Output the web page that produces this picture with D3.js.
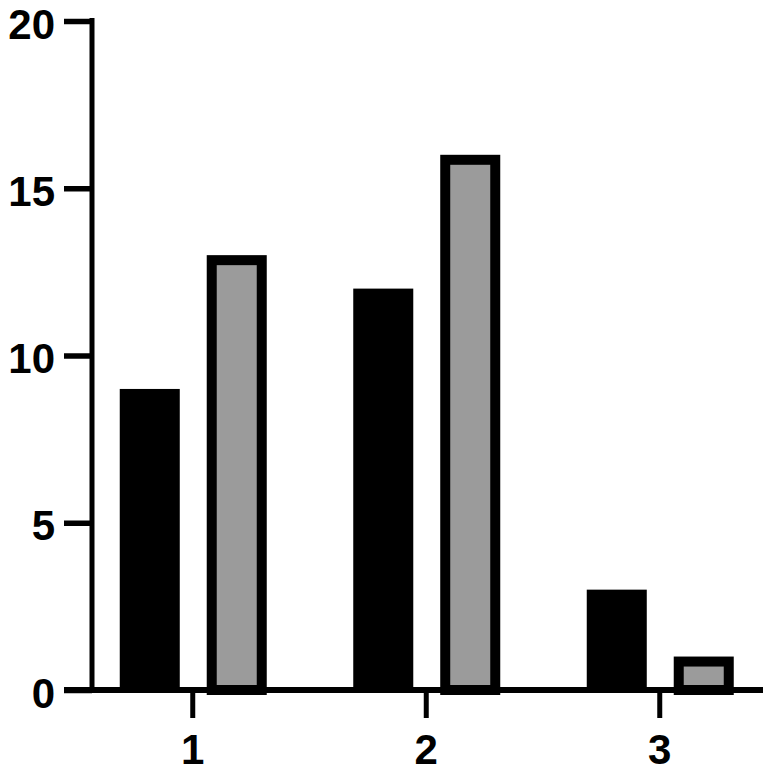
<!DOCTYPE html>
<html>
<head>
<meta charset="utf-8">
<script src="https://cdn.jsdelivr.net/npm/d3@7"></script>
<style>
  html, body { margin: 0; padding: 0; background: #fff; }
  svg { display: block; }
  text { font-family: "Liberation Sans", Arial, sans-serif; font-weight: bold; }
</style>
</head>
<body>
<svg id="chart" width="765" height="773"></svg>
<script>
const categories = ["1", "2", "3"];
const seriesNames = ["A", "B"];
const seriesA = [9, 12, 3];
const seriesB = [13, 16, 1];
const yTicks = [0, 5, 10, 15, 20];

const svg = d3.select("#chart");

const y = d3.scaleLinear().domain([0, 20]).range([690, 21]);
const x = d3.scaleBand().domain(categories).range([76, 776.5]).padding(0);
const xs = d3.scaleBand().domain(seriesNames).range([-73, 74]).paddingInner(0.31).paddingOuter(0);

const data = categories.map((c, i) => ({ cat: c, A: seriesA[i], B: seriesB[i] }));

const groups = svg.append("g").selectAll("g")
  .data(data).join("g")
  .attr("transform", d => `translate(${x(d.cat) + x.bandwidth() / 2},0)`);

// black bars
groups.append("rect")
  .attr("x", xs("A"))
  .attr("width", xs.bandwidth())
  .attr("y", d => y(d.A))
  .attr("height", d => y(0) - y(d.A))
  .attr("fill", "#000");

// grey bars with thick black border
const sw = 10;
groups.append("rect")
  .attr("x", xs("B") + sw / 2)
  .attr("width", xs.bandwidth() - sw)
  .attr("y", d => y(d.B) + sw / 2)
  .attr("height", d => Math.max(0, y(0) - y(d.B) - sw / 2))
  .attr("fill", "#9b9b9b")
  .attr("stroke", "#000")
  .attr("stroke-width", sw);

const fontSize = 42;

// Y axis
const yAxis = d3.axisLeft(y).tickValues(yTicks).tickSize(28).tickSizeOuter(0).tickPadding(9);
const gy = svg.append("g").attr("transform", "translate(92,0)").call(yAxis);
gy.select(".domain").remove();
gy.selectAll(".tick line").attr("stroke", "#000").attr("stroke-width", 5.5);
gy.selectAll(".tick text").attr("font-size", fontSize).attr("fill", "#000").attr("dy", "0.41em")
  .attr("font-family", "Liberation Sans, Arial, sans-serif").attr("font-weight", "bold");
gy.append("line")
  .attr("x1", 0).attr("x2", 0)
  .attr("y1", y(20) - 3).attr("y2", y(0))
  .attr("stroke", "#000").attr("stroke-width", 5);

// X axis
const xAxis = d3.axisBottom(x).tickSize(28).tickSizeOuter(0).tickPadding(16);
const gx = svg.append("g").attr("transform", `translate(0,${y(0)})`).call(xAxis);
gx.select(".domain").remove();
gx.selectAll(".tick line").attr("stroke", "#000").attr("stroke-width", 5);
gx.selectAll(".tick text").attr("font-size", fontSize).attr("fill", "#000").attr("dy", "0.71em")
  .attr("font-family", "Liberation Sans, Arial, sans-serif").attr("font-weight", "bold");
gx.append("line")
  .attr("x1", 64).attr("x2", 763)
  .attr("y1", 0).attr("y2", 0)
  .attr("stroke", "#000").attr("stroke-width", 6);
</script>
</body>
</html>
